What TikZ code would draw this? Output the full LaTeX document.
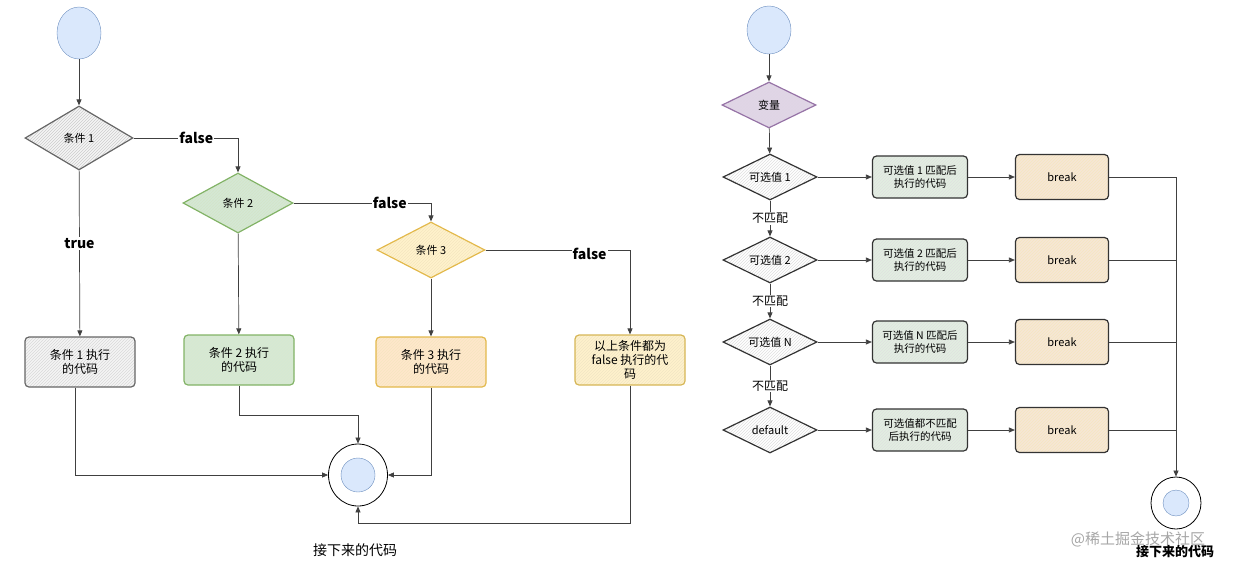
\documentclass[tikz,border=0pt]{standalone}
\usepackage{fontspec}
\setmainfont{Noto Sans CJK SC}
\usetikzlibrary{shapes.geometric,arrows.meta,patterns}
\definecolor{bluef}{HTML}{DAE8FC}\definecolor{bluel}{HTML}{6C8EBF}
\definecolor{greenf}{HTML}{D5E8D4}\definecolor{greenl}{HTML}{82B366}
\definecolor{orangef}{HTML}{FFE6CC}\definecolor{orangel}{HTML}{D79B00}
\definecolor{yellowf}{HTML}{FFF2CC}\definecolor{yellowl}{HTML}{D6B656}
\definecolor{grayf}{HTML}{F5F5F5}\definecolor{grayl}{HTML}{666666}
\definecolor{purpf}{HTML}{E1D5E7}\definecolor{purpl}{HTML}{9673A6}
\definecolor{beige}{HTML}{F5E6D6}
\tikzset{
  x=1pt,y=-1pt,
  hf/.style 2 args={preaction={fill=#1},preaction={pattern=north east lines,pattern color=#2}},
  dia/.style={diamond,draw,line width=1.2pt,inner sep=0pt,font=\fontsize{11}{13}\selectfont},
  box/.style={rectangle,rounded corners=4pt,draw,line width=1.2pt,align=center,inner sep=2pt,font=\fontsize{12}{14}\selectfont},
  sbox/.style={box,minimum width=95pt,minimum height=42pt,font=\fontsize{10.5}{12.5}\selectfont},
  conn/.style={draw=black!75,line width=0.7pt},
  arr/.style={conn,-{Triangle[length=6pt,width=5pt]}},
  lab/.style={font=\bfseries\fontsize{14}{16}\selectfont,fill=white,inner sep=1pt},
  nm/.style={fill=white,inner sep=1pt,font=\fontsize{12}{14}\selectfont},
}
\begin{document}
\begin{tikzpicture}
\useasboundingbox (0,0) rectangle (1240,566);
% ---------- left ----------
\node[ellipse,draw=bluel,fill=bluef,minimum width=44pt,minimum height=52pt] (s1) at (79,33) {};
\node[dia,draw=grayl,hf={grayf}{black!20},minimum width=108pt,minimum height=64pt,shape aspect=1.7] (c1) at (79,138) {条件 1};
\node[dia,draw=greenl,hf={greenf}{greenl!35},minimum width=110pt,minimum height=60pt,shape aspect=1.8] (c2) at (238,203) {条件 2};
\node[dia,draw=orangel!70,hf={yellowf}{orangel!25},minimum width=108pt,minimum height=56pt,shape aspect=1.9] (c3) at (431,250) {条件 3};
\node[box,draw=grayl,hf={grayf}{black!15},minimum width=110pt,minimum height=50pt] (b1) at (80,362) {条件 1 执行\\的代码};
\node[box,draw=greenl,hf={greenf}{greenl!30},minimum width=110pt,minimum height=50pt] (b2) at (239,360) {条件 2 执行\\的代码};
\node[box,draw=orangel!70,hf={orangef}{orangel!25},minimum width=110pt,minimum height=50pt] (b3) at (431,362) {条件 3 执行\\的代码};
\node[box,draw=yellowl,hf={yellowf}{yellowl!35},minimum width=110pt,minimum height=50pt] (b4) at (630,360) {以上条件都为\\false 执行的代\\码};
\node[ellipse,draw=black,line width=0.8pt,fill=white,minimum width=59pt,minimum height=62pt] (e1) at (358,475) {};
\node[ellipse,draw=bluel,fill=bluef,minimum width=34pt,minimum height=34pt] at (358,475) {};
\node[font=\fontsize{14}{16}\selectfont] (t1) at (355,550) {接下来的代码};

\draw[arr] (s1) -- (c1);
\draw[arr] (c1) -- (b1) node[lab,pos=0.44] {true};
\draw[arr] (c1.east) -| (c2.north) node[lab,pos=0.3] {false};
\draw[arr] (c2.east) -| (c3.north) node[lab,pos=0.35] {false};
\draw[arr] (c2) -- (b2);
\draw[arr] (c3) -- (b3);
\draw[arr] (c3.east) -| (b4.north) node[lab,pos=0.36,yshift=-4pt] {false};
\draw[arr] (b1.south -| 75,0) |- (e1.west);
\draw[arr] (b2.south) |- (358,415) -- (e1.north);
\draw[arr] (b3.south) |- (e1.east);
\draw[arr] (b4.south) |- (358,523) -- (e1.south);

% ---------- right ----------
\node[ellipse,draw=bluel,fill=bluef,minimum width=44pt,minimum height=48pt] (s2) at (769,30) {};
\node[dia,draw=purpl,hf={purpf}{purpl!30},minimum width=94pt,minimum height=46pt,shape aspect=2] (v) at (769,105) {变量};
\foreach \n/\y/\t in {1/177/可选值 1,2/260/可选值 2,3/342/可选值 N,4/430/default}{
  \node[dia,draw=black!80,hf={white}{black!12},minimum width=94pt,minimum height=46pt,shape aspect=2] (d\n) at (770,\y) {\t};
  \node[sbox,draw=black!80,hf={greenf!70}{black!12}] (g\n) at (920,\y) {};
  \node[sbox,draw=black!80,hf={beige}{orangel!25},minimum width=93pt,minimum height=45pt,font=\fontsize{11}{13}\selectfont] (k\n) at (1062,\y) {break};
  \draw[arr] (d\n) -- (g\n);
  \draw[arr] (g\n) -- (k\n);
}
\node[align=center,font=\fontsize{10.5}{12.5}\selectfont] at (g1) {可选值 1 匹配后\\执行的代码};
\node[align=center,font=\fontsize{10.5}{12.5}\selectfont] at (g2) {可选值 2 匹配后\\执行的代码};
\node[align=center,font=\fontsize{10.5}{12.5}\selectfont] at (g3) {可选值 N 匹配后\\执行的代码};
\node[align=center,font=\fontsize{10.5}{12.5}\selectfont] at (g4) {可选值都不匹配\\后执行的代码};
\node[ellipse,draw=black,line width=0.8pt,fill=white,minimum width=50pt,minimum height=52pt] (e2) at (1176,503) {};
\node[ellipse,draw=bluel,fill=bluef,minimum width=26pt,minimum height=26pt] at (1176,503) {};
\node[font=\fontsize{15}{17}\selectfont,text=black!35] (wm) at (1138,539) {@稀土掘金技术社区};
\node[font=\bfseries\fontsize{13}{15}\selectfont] (t2) at (1175,552) {接下来的代码};

\draw[arr] (s2) -- (v);
\draw[arr] (v) -- (d1);
\draw[arr] (d1) -- (d2) node[nm,midway] {不匹配};
\draw[arr] (d2) -- (d3) node[nm,midway] {不匹配};
\draw[arr] (d3) -- (d4) node[nm,midway] {不匹配};
\coordinate (j1) at (1176,177);
\draw[conn] (k1) -- (j1);
\draw[conn] (k2) -- (1176,260);
\draw[conn] (k3) -- (1176,342);
\draw[conn] (k4) -- (1176,430);
\draw[arr] (j1) -- (e2.north);
\end{tikzpicture}
\end{document}
